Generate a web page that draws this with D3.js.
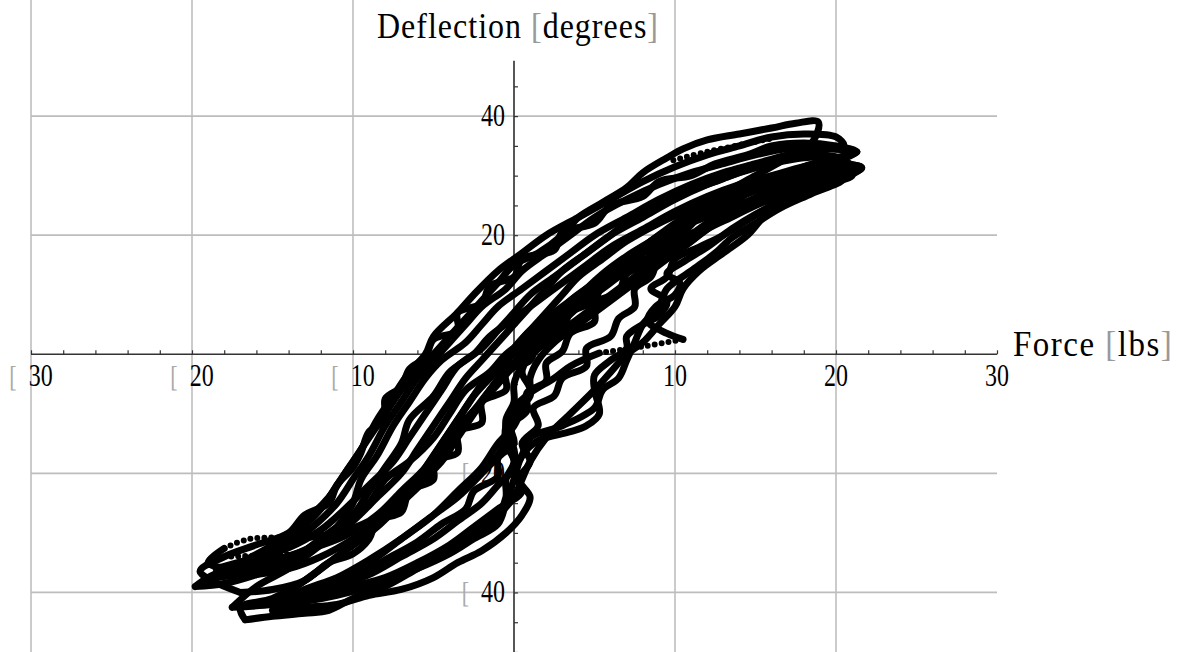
<!DOCTYPE html>
<html>
<head>
<meta charset="utf-8">
<script src="https://cdn.jsdelivr.net/npm/d3@7"></script>
<style>
  html, body { margin: 0; padding: 0; background: #fff; }
  svg { display: block; }
  text { font-family: "Liberation Serif", "Times New Roman", serif; fill: #000; }
</style>
</head>
<body>
<svg id="chart" width="1186" height="652"></svg>
<script>
// ---- axis / label data ----
const xTickLabels = [-30, -20, -10, 10, 20, 30];
const yTickLabels = [-40, -20, 20, 40];
const xGridValues = [-30, -20, -10, 10, 20];
const yGridValues = [-40, -20, 20, 40];
const xMinorTicks = d3.range(-30, 31, 2);
const yMinorTicks = [-50, -45, -40, -35, -30, -25, -20, -15, -10, -5, 5, 10, 15, 20, 25, 30, 35, 40, 45];
const xAxisTitle = ["Force ", "lbs"];
const yAxisTitle = ["Deflection ", "degrees"];

// ---- measured traces: [force (lbs), deflection (degrees)] ----
const loop1 = [[-19.8,-39],[-18,-38.5],[-16,-37],[-14,-35],[-12.5,-32],[-11,-29],[-10,-25],[-9.5,-21],[-8.5,-17],[-7.5,-12],[-6.5,-8],[-5.5,-4],[-4.5,-1],[-3,2],[-2,5],[-1,8],[0.5,11],[2,14],[3.5,17],[5,20],[7,23],[9,26],[11,28.5],[13,30.5],[15,32],[17,33.5],[19,34.5],[20.5,35],[20,36.5],[18,37],[16,36.5],[14,35],[12,33.5],[10,31.5],[8,29],[6,26],[4,23],[2,20],[0.5,17],[-1,14],[-2.5,10],[-3.5,7],[-5,3],[-5.5,0],[-6.5,-3],[-7.5,-7],[-8.5,-11],[-9.5,-16],[-10.5,-20],[-11.5,-24],[-13,-28],[-15,-32],[-17,-35],[-19,-37.5],[-19.8,-39]];
const loop2 = [[-19,-37.5],[-17,-37],[-15,-35.5],[-13,-33],[-11.5,-30],[-10,-27],[-9,-23],[-8,-19],[-7,-15],[-6.5,-11],[-5,-7],[-4,-3],[-2.5,0],[-1.5,3],[0,6],[1.5,9],[3,12],[4.5,15],[6,18],[8,21],[10,24],[12,26.5],[14,28.5],[16,30],[18,31.5],[20,32.5],[21.3,34],[19.5,34.5],[17,34.5],[15,33.5],[13,32],[11,30.5],[9,28.5],[7,26],[5,23],[3.5,20],[2,17],[0.5,14],[-0.5,11],[-2,8],[-3,5],[-4,2],[-5,-1],[-6,-4],[-7,-8],[-8,-12],[-9,-17],[-10,-21],[-11,-25],[-12.5,-29],[-14.5,-33],[-17,-36],[-19,-37.5]];
const loop3 = [[-16.7,-44.6],[-15,-44],[-13,-43.5],[-11.5,-43],[-10,-41],[-8,-39],[-6,-36],[-4,-33],[-2.5,-30],[-1,-27],[0,-24],[0.5,-21],[1,-18],[2,-14],[3.5,-10],[5,-6],[6,-3],[7,0],[8,2],[9,5],[10,8],[10.5,11],[11.5,14],[13,17],[14.5,20],[15.5,23],[17,26],[19.5,28.5],[21.6,31.3],[21,31.8],[19,31.5],[17,30.5],[15,29],[13,27],[11,24.5],[9,22],[7,19],[5.5,16],[4,13],[3,10],[2,7],[1,4],[0,1],[-0.5,-2],[-1.5,-6],[-2.5,-10],[-3.5,-14],[-4.5,-18],[-6,-22],[-7.5,-26],[-9,-30],[-11,-34],[-13,-38],[-15,-41],[-17,-42.5],[-16.7,-44.6]];
const loop4 = [[-17.5,-42.5],[-15,-42],[-13,-41],[-11,-39],[-9,-37],[-7,-34],[-5,-31],[-3.5,-28],[-2,-25],[-1,-22],[0,-19],[0,-16],[-0.5,-13],[0,-10],[1,-7],[1,-4],[1.5,-1],[2.5,2],[4,5],[5.5,8],[7,11],[8.5,14],[10,17],[11.5,20],[13,23],[15,26],[17,28],[19,30],[21,31.5],[20,33],[18,33],[16,32],[14,30.5],[12,28.5],[10,26],[8,23],[6,20],[4.5,17],[3,14],[2,11],[1,8],[0,5],[-1,2],[-2,-1],[-3,-4],[-4,-8],[-5,-12],[-6,-16],[-7,-20],[-8.5,-24],[-10,-28],[-12,-32],[-14,-36],[-16,-39],[-17.5,-42.5]];
const loop5 = [[-18.5,-36],[-16,-35.5],[-14,-34],[-12,-31.5],[-10.5,-28.5],[-9,-25],[-8,-21],[-6.5,-18],[-5,-14],[-4,-10],[-3,-6],[-1.5,-3],[-0.5,0],[1,3],[2.5,6],[3.5,9],[5,12],[6.5,15],[8,18],[10,21],[12,24],[14,26.5],[16,28.5],[18,30],[20,31],[20.5,32.5],[19,33.5],[17,33],[15,31.5],[13,29.5],[11,27.5],[9,25],[7,22],[5.5,19],[4,16],[2.5,13],[1,10],[0,7],[-1,4],[-2,1],[-3.5,-2],[-4.5,-6],[-5.5,-10],[-6.5,-14],[-7.5,-18],[-9,-22],[-10.5,-26],[-12,-29.5],[-14,-32.5],[-16.5,-34.5],[-18.5,-36]];
const loop6a = [[-15,-42],[-13,-41.5],[-11,-40.5],[-9,-39],[-7,-37],[-5,-34.5],[-3.5,-32],[-2,-29.5],[-1,-27],[-0.5,-24],[-0.5,-21],[0,-18],[-0.5,-15],[-0.5,-12],[0,-9],[1,-6.5],[2.5,-4],[3.5,-2],[5.3,0.2]];
const loop6b = [[10.5,2.5],[9.5,3.5],[8.3,5.6],[8.8,8],[10,10],[10.3,12],[9.5,13.5],[10.5,15.5],[12,18],[13.5,21],[15,23.5],[16.5,25.5],[18,27.5],[20,29.5],[21.6,31.3],[20.5,32],[18.5,31.5],[16.5,30],[15,28.5],[13,26.5],[11.5,24],[10,21.5],[8.5,19],[7,16.5],[5.5,13.5],[4.5,11],[3.5,8],[2.5,5],[1.5,2.5],[0.5,0],[-0.5,-3],[-1.5,-6],[-2.5,-9.5],[-3.5,-13],[-4.5,-17],[-5.5,-21],[-7,-25],[-8.5,-29],[-10.5,-33],[-12.5,-37],[-14,-40],[-15,-42]];
const loop7 = [[-14,-41],[-12,-40.5],[-10,-39],[-8,-37.5],[-6,-35],[-4,-32],[-2.5,-29],[-1,-26],[0.5,-23],[0,-20],[0.5,-17],[1,-14],[3,-12],[5,-9],[5.5,-6],[6.5,-4],[7,-1],[7.5,2],[8,5],[9,8],[9.5,11],[11,14],[12.5,17],[13.5,19.5],[15,22],[16.5,24.5],[18.5,27],[20.5,29.5],[20.5,31],[18.5,31],[16.5,29.5],[15,28],[13.5,26],[12,24],[10.5,21.5],[9,19],[7.5,16],[6,13],[4.5,10],[3.5,7],[2.5,4],[1.5,1],[0.5,-2],[0,-5],[0,-8],[-0.5,-11],[-0.5,-14],[-1,-17],[-2,-20],[-3.5,-24],[-5,-27],[-7,-31],[-9,-34.5],[-11,-37.5],[-13,-39.5],[-14,-41]];
const loop8 = [[-16,-37],[-14,-36],[-12,-34],[-10,-31],[-8.5,-28],[-7,-25],[-6,-21],[-5,-17],[-4,-13],[-3,-9],[-2,-5],[-1,-2],[0,1],[1,4],[2.5,7],[4,10],[5.5,13],[7,16],[8.5,19],[10,22],[11.5,24.5],[13,27],[15,30],[17,33],[18.5,35.5],[18.9,39],[17.5,38.8],[16,38],[14,37],[12,36],[10.5,34.5],[9.5,33],[8,30.5],[7,28],[5.5,25.5],[4,23],[3,20],[1.5,17],[0,15],[-1,12],[-2,9],[-3,6],[-4,3],[-5,0],[-6,-3],[-7,-6],[-8,-10],[-9,-14],[-10,-18],[-11,-22],[-12,-26],[-13.5,-30],[-15,-33],[-16,-37]];
const loop9 = [[-13.3,-30.9],[-11,-30],[-9,-28],[-7.5,-25],[-6,-22],[-5,-19],[-4,-15],[-3,-11],[-2,-8],[-1,-5],[0,-2],[1.5,1],[3,4],[4.5,7],[6,10],[7.5,13],[9,16],[10.5,19],[12,22],[14,25],[16,27.5],[18,29.5],[20,31],[21.5,31.5],[20,30.5],[18,28.5],[16,26.5],[14,24],[12,21.5],[10,19],[8.5,16.5],[7,14],[5.5,11],[4,8],[2.5,5],[1,2],[-0.5,-1],[-1.5,-4],[-2.5,-7],[-3.5,-11],[-4.5,-15],[-5.5,-19],[-7,-23],[-8.5,-27],[-10.5,-30.5],[-13,-33],[-15.5,-35],[-17.5,-36],[-19,-35],[-18,-32.6]];
const loop10 = [[-12,-40],[-10,-39.5],[-8,-38],[-6,-36],[-4,-33.5],[-2.5,-31],[-1,-28.5],[-0.5,-25],[0,-21],[0.5,-17],[1.5,-14.5],[3.5,-13],[4.5,-12],[5.3,-10],[5,-6],[5,-3.5],[6,-1],[7,1],[7,3],[8,5],[9,6.5],[9.5,9],[8.5,11],[9.5,13],[10,16],[11.5,18],[13,20],[14.5,22.5],[16,25],[17.5,27],[19,29],[20.5,30.5],[19.5,31.5],[17.5,30],[16,28.5],[14.5,27],[13,25.5],[11.5,23.5],[10,21.5],[8.5,19],[7.5,16.5],[6,14],[5,11],[4,8],[3,5.5],[2,3],[1,0],[0.5,-3],[1,-6],[0.5,-9],[0,-12],[-1,-15],[-2,-19],[-3.5,-23],[-5,-27],[-7,-31],[-9,-35],[-11,-38],[-12,-40]];
const loop11 = [[-17,-40],[-15,-39.5],[-13,-38],[-11.5,-35],[-10,-33.5],[-9,-31],[-8.5,-28],[-7,-26.5],[-6.5,-23],[-5,-21],[-5,-18],[-3.5,-16.5],[-3.5,-13],[-2,-11.5],[-2,-8],[-0.5,-6],[-0.5,-3],[1,-1],[1.5,2],[3,4],[3.5,7],[5,9],[5.5,12],[7,14],[8,17],[10,19],[11,22],[13,24],[14.5,27],[16.5,29],[18,31.5],[20,33],[21.3,34],[20,35],[18,35.5],[16,35],[14.5,33.5],[12.5,32],[11,30],[9,29],[8,26.5],[6,25],[5,22],[3,20.5],[2.5,17.5],[0.5,16],[0,13],[-1.5,11.5],[-2,8.5],[-3.5,7],[-3.5,4],[-5,2.5],[-5.5,-0.5],[-6.5,-2.5],[-7,-5.5],[-8,-7.5],[-8,-11],[-9,-13],[-9.5,-16.5],[-10,-19],[-11,-22],[-11.5,-25],[-13,-27],[-14,-30],[-16,-32],[-18,-34],[-19.5,-36.5],[-17,-40]];
const loop12 = [[-15,-43],[-13,-42.5],[-11,-42],[-9,-40.5],[-7,-39.5],[-5,-37.5],[-3.5,-35],[-2,-33],[-0.5,-30],[0.5,-27],[1,-24],[0.3,-21],[1,-18],[0.5,-15],[1.5,-12],[1.2,-9],[2.5,-7],[3,-4],[4.5,-2],[4.5,1],[6,3],[6.5,6],[7.5,8],[7.5,11],[8.5,13],[9,16],[10.5,18],[12,21],[13.5,23],[15,25],[17,27],[19,28.5],[21,30],[20.5,31],[18.5,30.5],[16.5,29],[14.5,27.5],[13,25],[11.5,23],[10.5,20.5],[9,18.5],[8.5,15.5],[7,13.5],[6.5,10.5],[5,8.5],[5,5.5],[3.5,3.5],[3,0.5],[2,-1.5],[2,-4.5],[0.8,-6.5],[0.8,-9.5],[-0.2,-12],[0,-15],[-1,-17.5],[-1,-20.5],[-2.5,-23],[-3,-26],[-4.5,-28.5],[-6,-31.5],[-8,-34.5],[-10,-37.5],[-12.5,-40],[-15,-43]];
const solidTraces = [loop1, loop2, loop3, loop4, loop5, loop6a, loop6b, loop7, loop8, loop9, loop10, loop11, loop12];

// sparsely sampled (fast) stretches, drawn as separate dots
const dots1 = [[-18,-32.6],[-16.4,-31],[-13.3,-30.9]];
const dots2 = [[-18,-34],[-14,-33.6]];
const dots3 = [[-14.7,-43.2],[-11.6,-43.1]];
const dots4 = [[9.9,32.6],[12,34],[16.1,36.3]];
const dots5 = [[15.7,28],[18,29.5],[20.2,30.4]];
const dots6 = [[5.3,0.2],[8,1.3],[10.5,2.5]];
const dottedTraces = [dots1, dots2, dots3, dots4, dots5, dots6];

// ---- layout ----
const svg = d3.select("#chart");
const x = d3.scaleLinear().domain([-30, 30]).range([31, 997]);
const y = d3.scaleLinear().domain([-50, 59.5]).range([652, 0]);

// grid
const grid = svg.append("g");
grid.selectAll("line.v").data(xGridValues).join("line")
  .attr("x1", d => x(d)).attr("x2", d => x(d))
  .attr("y1", 0).attr("y2", 652)
  .attr("stroke", "#a8a8a8").attr("stroke-width", 1.2);
grid.selectAll("line.h").data(yGridValues).join("line")
  .attr("x1", x(-30)).attr("x2", x(30))
  .attr("y1", d => y(d)).attr("y2", d => y(d))
  .attr("stroke", "#bdbdbd").attr("stroke-width", 1.8);

// tick labels (under the data)
function negLabel(sel, d) {
  if (d < 0) {
    sel.append("tspan").style("fill", "#aaa").attr("font-size", "22px").text("[");
    sel.append("tspan").text("\u2002" + Math.abs(d));
  } else {
    sel.append("tspan").text(String(d));
  }
}
const labels = svg.append("g");
xTickLabels.forEach(d => {
  const t = labels.append("text")
    .attr("transform", `translate(${x(d)},${y(0) + 32}) scale(1,1.3)`)
    .attr("text-anchor", "middle")
    .attr("font-size", "24px");
  negLabel(t, d);
});
yTickLabels.forEach(d => {
  const t = labels.append("text")
    .attr("transform", `translate(${x(0) - 9},${y(d) + 9.5}) scale(1,1.3)`)
    .attr("text-anchor", "end")
    .attr("font-size", "24px");
  negLabel(t, d);
});

// axes
const xAxis = d3.axisTop(x).tickValues(xMinorTicks).tickSize(4).tickFormat("");
const gx = svg.append("g").attr("transform", `translate(0,${y(0)})`).call(xAxis);
gx.select(".domain").attr("stroke", "#333").attr("stroke-width", 1.6).attr("d", `M${x(-30)},0H${x(30)}`);
gx.selectAll(".tick line").attr("stroke", "#333").attr("stroke-width", 1.2);

const yAxis = d3.axisRight(y).tickValues(yMinorTicks).tickSize(4).tickFormat("");
const gy = svg.append("g").attr("transform", `translate(${x(0)},0)`).call(yAxis);
gy.select(".domain").attr("stroke", "#444").attr("stroke-width", 1.8).attr("d", `M0,${y(49.3)}V${y(-50)}`);
gy.selectAll(".tick line").attr("stroke", "#333").attr("stroke-width", 1.2);

// data
const line = d3.line().x(d => x(d[0])).y(d => y(d[1])).curve(d3.curveCatmullRom.alpha(0.5));
const dataG = svg.append("g");
dataG.selectAll("path.solid").data(solidTraces).join("path")
  .attr("class", "solid")
  .attr("d", line)
  .attr("fill", "none").attr("stroke", "#000")
  .attr("stroke-width", 7).attr("stroke-linejoin", "round").attr("stroke-linecap", "round");
dataG.selectAll("path.dotted").data(dottedTraces).join("path")
  .attr("class", "dotted")
  .attr("d", line)
  .attr("fill", "none").attr("stroke", "#000")
  .attr("stroke-width", 6).attr("stroke-linecap", "round")
  .attr("stroke-dasharray", "0 7");

// axis titles (bracket glyphs shown faint, as in the reference)
function axisTitle(t, parts) {
  t.append("tspan").text(parts[0]);
  t.append("tspan").style("fill", "#999").text("[");
  t.append("tspan").text(parts[1]);
  t.append("tspan").style("fill", "#999").text("]");
}
const yt = svg.append("text")
  .attr("transform", `translate(${x(0) + 4},38) scale(1,1.1)`)
  .attr("text-anchor", "middle")
  .attr("font-size", "32px")
  .attr("letter-spacing", "1px");
axisTitle(yt, yAxisTitle);
const xt = svg.append("text")
  .attr("transform", `translate(${x(30) + 16},${y(0) + 2}) scale(1,1.1)`)
  .attr("text-anchor", "start")
  .attr("font-size", "33px")
  .attr("letter-spacing", "1.5px");
axisTitle(xt, xAxisTitle);
</script>
</body>
</html>
